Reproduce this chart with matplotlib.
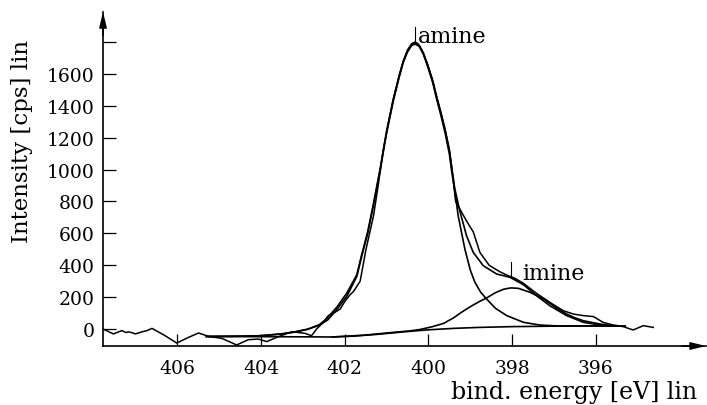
import matplotlib
matplotlib.use("Agg")
import matplotlib.pyplot as plt

# N 1s spectrum: measured counts, fitted envelope, two components and background
spectrum_energy = [407.77, 407.52, 407.40, 407.32, 407.22, 407.16, 407.05, 407.00, 406.84,
                   406.72, 406.60, 406.30, 406.01, 405.75, 405.49, 405.25, 404.93, 404.58,
                   404.30, 404.06, 403.86, 403.62, 403.26, 402.95, 402.79, 402.67, 402.51,
                   402.39, 402.23, 402.11, 401.99, 401.87, 401.79, 401.63, 401.49, 401.31,
                   401.20, 401.08, 400.95, 400.84, 400.70, 400.60, 400.50, 400.40, 400.32,
                   400.25, 400.15, 400.02, 399.90, 399.80, 399.70, 399.60, 399.50, 399.45,
                   399.35, 399.18, 399.05, 398.93, 398.77, 398.55, 398.30, 398.10, 397.95,
                   397.75, 397.55, 397.42, 397.10, 396.78, 396.54, 396.30, 396.06, 395.83,
                   395.59, 395.35, 395.11, 394.87, 394.63]
spectrum_counts = [0, -31, -18, -10, -22, -18, -25, -31, -18,
                   -10, 4, -40, -88, -55, -25, -46, -59, -100,
                   -67, -63, -79, -52, -17, -27, -42, 0, 42,
                   84, 105, 125, 175, 215, 235, 300, 500, 711,
                   900, 1120, 1300, 1440, 1590, 1680, 1750, 1790, 1800,
                   1790, 1745, 1660, 1560, 1455, 1355, 1250, 1125, 1030,
                   800, 720, 660, 610, 480, 400, 360, 335, 320,
                   290, 250, 224, 167, 115, 94, 84, 78, 42,
                   25, 15, -6, 21, 10]

envelope_energy = [405.30, 404.50, 404.00, 403.50, 403.20, 402.87, 402.60, 402.43, 402.19,
                   401.95, 401.71, 401.59, 401.45, 401.31, 401.15, 401.00, 400.84, 400.70,
                   400.60, 400.50, 400.40, 400.32, 400.22, 400.12, 400.02, 399.90, 399.80,
                   399.70, 399.60, 399.50, 399.45, 399.37, 399.25, 399.09, 398.93, 398.69,
                   398.37, 398.05, 397.73, 397.42, 397.10, 396.70, 396.30, 395.90, 395.50]
envelope_counts = [-47, -45, -42, -30, -18, 0, 28, 65, 136,
                   225, 340, 470, 610, 790, 1010, 1240, 1440, 1585,
                   1680, 1745, 1785, 1795, 1780, 1732, 1658, 1560, 1452,
                   1355, 1248, 1122, 1025, 880, 740, 585, 481, 397,
                   345, 324, 278, 209, 146, 84, 42, 25, 18]

amine_energy = [405.30, 404.50, 404.00, 403.50, 403.20, 402.90, 402.60, 402.40, 402.20,
                401.95, 401.71, 401.59, 401.45, 401.31, 401.15, 401.00, 400.84, 400.70,
                400.60, 400.50, 400.40, 400.32, 400.22, 400.12, 400.02, 399.90, 399.80,
                399.70, 399.60, 399.50, 399.45, 399.36, 399.29, 399.13, 399.00, 398.89,
                398.75, 398.61, 398.40, 398.13, 397.73, 397.34, 396.90, 396.30, 395.50]
amine_counts = [-47, -45, -42, -31, -20, -3, 24, 58, 118,
                205, 330, 458, 598, 778, 998, 1228, 1428, 1578,
                1673, 1738, 1778, 1788, 1773, 1723, 1648, 1548, 1438,
                1338, 1228, 1098, 1000, 850, 711, 502, 370, 293,
                230, 188, 130, 84, 42, 25, 19, 19, 18]

imine_energy = [402.30, 401.50, 401.00, 400.45, 400.20, 399.90, 399.64, 399.40, 399.21,
                399.00, 398.80, 398.61, 398.40, 398.20, 398.03, 397.85, 397.57, 397.30,
                397.10, 396.90, 396.70, 396.50, 396.30, 395.90, 395.67, 395.30]
imine_counts = [-50, -38, -25, -12, -3, 15, 35, 70, 105,
                140, 170, 195, 228, 250, 258, 255, 230, 195,
                161, 125, 94, 70, 52, 31, 23, 18]

background_energy = [405.30, 404.00, 403.00, 402.30, 401.80, 401.20, 400.60, 400.00,
                     399.40, 398.80, 398.00, 397.00, 396.00, 395.30]
background_counts = [-47, -48, -49, -50, -45, -33, -18, -5,
                     4, 10, 15, 18, 20, 18]

x_ticks = [406, 404, 402, 400, 398, 396]
y_ticks = [0, 200, 400, 600, 800, 1000, 1200, 1400, 1600, 1800]
y_tick_labels = ["0", "200", "400", "600", "800", "1000", "1200", "1400", "1600", ""]

peak_names = ["amine", "imine"]
peak_positions = [400.32, 398.04]
peak_marker_low = [1800, 335]
peak_marker_high = [1895, 420]
peak_label_energy = [400.24, 397.77]
peak_label_counts = [1800, 314]

plt.rcParams["font.family"] = ["DejaVu Serif"]

fig = plt.figure(figsize=(7.07, 4.06), dpi=100)
ax = fig.add_axes([0.1457, 0.1453, 0.8530, 0.8227])

line_kw = dict(color="black", lw=1.2, solid_joinstyle="round")
ax.plot(background_energy, background_counts, **line_kw)
ax.plot(imine_energy, imine_counts, **line_kw)
ax.plot(amine_energy, amine_counts, **line_kw)
ax.plot(envelope_energy, envelope_counts, **line_kw)
ax.plot(spectrum_energy, spectrum_counts, color="black", lw=1.1, solid_joinstyle="round")

for name, pos, lo, hi, lx, ly in zip(peak_names, peak_positions, peak_marker_low,
                                     peak_marker_high, peak_label_energy, peak_label_counts):
    ax.plot([pos, pos], [lo, hi], color="black", lw=0.8)
    ax.text(lx, ly, name, fontsize=16, ha="left", va="baseline")

ax.set_xlim(407.77, 393.37)
ax.set_ylim(-106.6, 1988.7)

ax.set_xticks(x_ticks)
ax.set_yticks(y_ticks)
ax.set_yticklabels(y_tick_labels)
ax.tick_params(axis="both", direction="in", length=9, width=0.9, labelsize=13.5)
ax.tick_params(axis="y", pad=6)
ax.tick_params(axis="x", pad=9)

for side in ("top", "right"):
    ax.spines[side].set_visible(False)
for side in ("left", "bottom"):
    ax.spines[side].set_linewidth(1.2)

# arrow heads on both axes
ax.annotate("", xy=(0, 1.0), xytext=(0, 0.93), xycoords="axes fraction",
            arrowprops=dict(arrowstyle="-|>,head_length=0.9,head_width=0.22",
                            lw=1.2, color="black", shrinkA=0, shrinkB=0))
ax.annotate("", xy=(1.0, 0), xytext=(0.96, 0), xycoords="axes fraction",
            arrowprops=dict(arrowstyle="-|>,head_length=0.9,head_width=0.22",
                            lw=1.2, color="black", shrinkA=0, shrinkB=0))

fig.text(0.031, 0.652, "Intensity [cps] lin", rotation=90, fontsize=16.5,
         ha="center", va="center")
fig.text(0.986, 0.018, "bind. energy [eV] lin", fontsize=17, ha="right", va="baseline")

fig.savefig("out.png", dpi=100)
